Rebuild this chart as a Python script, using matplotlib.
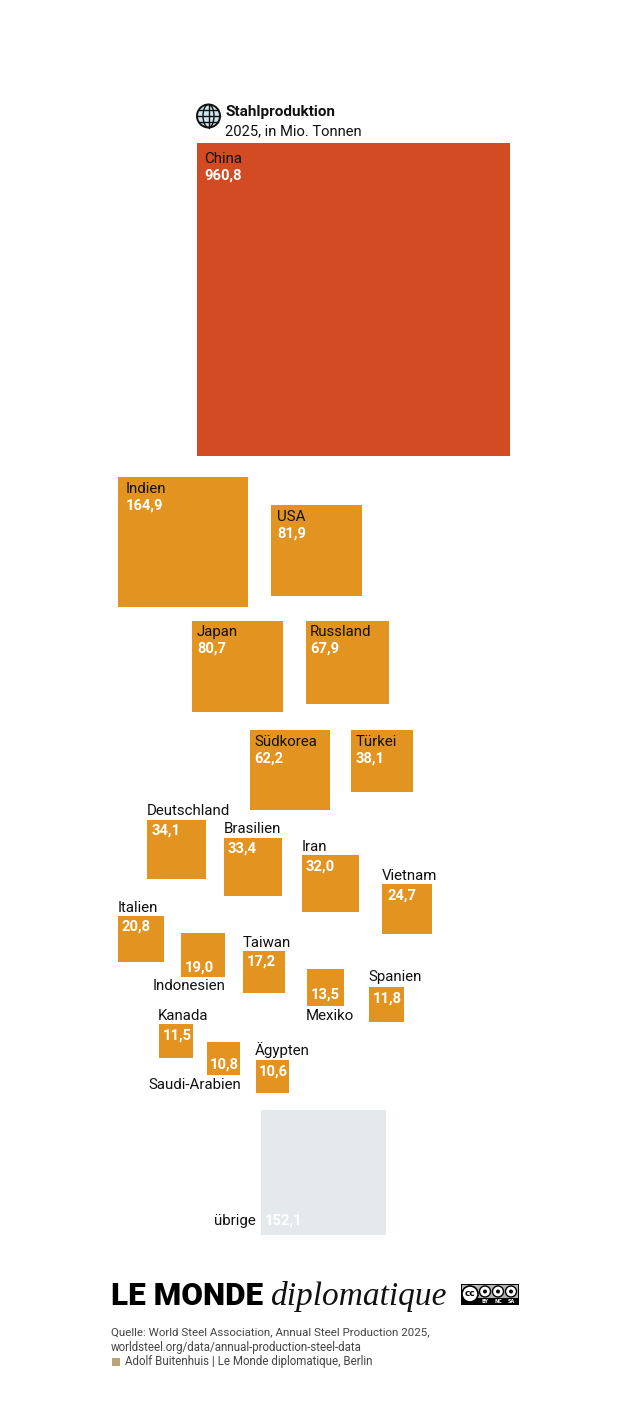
import matplotlib
matplotlib.use("Agg")
import matplotlib.pyplot as plt
from matplotlib.patches import Rectangle, Circle, Ellipse
import numpy as np

countries = ["China", "Indien", "USA", "Japan", "Russland", "Südkorea", "Türkei",
             "Deutschland", "Brasilien", "Iran", "Vietnam", "Italien", "Indonesien",
             "Taiwan", "Mexiko", "Spanien", "Kanada", "Saudi-Arabien", "Ägypten", "übrige"]
values = [960.8, 164.9, 81.9, 80.7, 67.9, 62.2, 38.1, 34.1, 33.4, 32.0, 24.7, 20.8,
          19.0, 17.2, 13.5, 11.8, 11.5, 10.8, 10.6, 152.1]

# layout in image pixels: left, top of each square
square_x = [197, 118, 271, 192, 306, 250, 351, 147, 224, 302, 382, 118, 181, 243, 307, 369, 159, 207, 256, 261]
square_y = [143, 477, 505, 621, 621, 730, 730, 820, 838, 855, 884, 916, 933, 951, 969, 987, 1024, 1042, 1060, 1110]
name_x = [204, 126, 277, 197, 310, 254, 356, 147, 224, 302, 382, 118, 153, 243, 306, 368, 158, 148, 255, 214]
name_y = [159, 489, 517, 632, 632, 742, 742, 811, 829, 847, 876, 908, 986, 943, 1016, 977, 1016, 1085, 1050, 1221]
value_x = [204, 126, 277, 197, 310, 254, 356, 152, 228, 306, 387, 122, 185, 247, 311, 373, 163, 210, 259, 265]
value_y = [176, 506, 534, 649, 649, 759, 759, 831, 849, 867, 896, 927, 968, 962, 995, 999, 1036, 1065, 1072, 1221]

RED = "#D24B22"
ORANGE = "#E39320"
GREY = "#E4EAEC"
INK = "#111111"
FONT = ["Roboto", "DejaVu Sans"]

fig = plt.figure(figsize=(6.28, 14.27), dpi=100)
ax = fig.add_axes([0, 0, 1, 1])
ax.set_xlim(0, 628)
ax.set_ylim(1427, 0)
ax.axis("off")

# area is proportional to the value
scale = 313 / np.sqrt(values[0])
for i, (name, val) in enumerate(zip(countries, values)):
    side = scale * np.sqrt(val)
    color = RED if name == "China" else GREY if name == "übrige" else ORANGE
    ax.add_patch(Rectangle((square_x[i], square_y[i]), side, side, color=color, lw=0))
    ax.text(name_x[i], name_y[i], name, fontsize=10.8, family=FONT, color=INK, va="center", ha="left")
    ax.text(value_x[i], value_y[i], f"{val:.1f}".replace(".", ","), fontsize=10.6, family=FONT,
            fontweight="bold", color="white", va="center", ha="left")

# title and globe
ax.text(225, 112, "Stahlproduktion", fontsize=11, family=FONT, fontweight="bold", color=INK, va="center")
ax.text(225, 131, "2025, in Mio. Tonnen", fontsize=10.6, family=FONT, color=INK, va="center")
ax.add_patch(Circle((208.5, 116), 11.5, fc="#CFE6EE", ec=INK, lw=1.4))
ax.add_patch(Ellipse((208.5, 116), 11, 23, fc="none", ec=INK, lw=1))
ax.plot([197, 220], [116, 116], color=INK, lw=1)
ax.plot([208.5, 208.5], [104.5, 127.5], color=INK, lw=1)
ax.plot([199, 218], [110, 110], color=INK, lw=1)
ax.plot([199, 218], [122, 122], color=INK, lw=1)

# logo
ax.text(111, 1296, "LE MONDE", fontsize=22.6, family=["Roboto", "DejaVu Sans"], fontweight="black", color="black", va="center")
ax.text(271, 1297, "diplomatique", fontsize=24, family=["Liberation Serif", "DejaVu Serif"], style="italic", color="#111111", va="center")

# cc badge
ax.add_patch(Rectangle((461, 1284), 58, 21, fc="black", lw=0))
ax.add_patch(Rectangle((462, 1285), 56, 13, fc="#B5B5B5", lw=0))
ax.add_patch(Circle((470, 1294), 8, fc="white", ec="black", lw=1.2))
ax.text(470, 1294, "cc", fontsize=6.5, fontweight="bold", ha="center", va="center", color="black")
for cx in [485, 498, 511]:
    ax.add_patch(Circle((cx, 1291.5), 5.5, fc="white", ec="black", lw=1))
    ax.add_patch(Circle((cx, 1291.5), 2, fc="black", lw=0))
for cx, t in zip([485, 498, 511], ["BY", "NC", "SA"]):
    ax.text(cx, 1301.5, t, fontsize=3.5, color="white", ha="center", va="center", fontweight="bold")

# source
SRC = "#444444"
ax.text(111, 1332, "Quelle: World Steel Association, Annual Steel Production 2025,", fontsize=8.25, family=FONT, color=SRC, va="center")
ax.text(111, 1347, "worldsteel.org/data/annual-production-steel-data", fontsize=8.3, family=FONT, color=SRC, va="center")
ax.add_patch(Rectangle((112, 1358), 8, 8, fc="#B9A47A", lw=0))
ax.text(125, 1362, "Adolf Buitenhuis | Le Monde diplomatique, Berlin", fontsize=8.3, family=FONT, color=SRC, va="center")

fig.savefig("out.png", dpi=100, facecolor="white")
